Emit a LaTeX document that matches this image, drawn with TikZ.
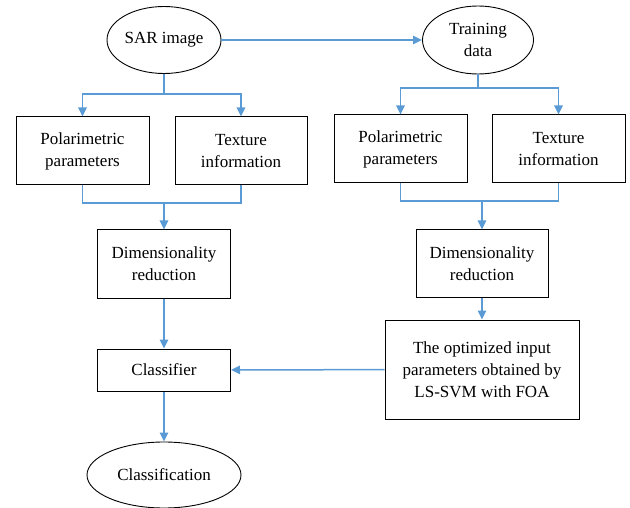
\documentclass[tikz,border=0pt]{standalone}
\usepackage{fontspec}
\setmainfont{Liberation Serif}
\usetikzlibrary{arrows.meta,shapes.geometric}
\definecolor{flowblue}{RGB}{91,155,213}

\begin{document}
\begin{tikzpicture}[x=1pt,y=-1pt,>={Triangle[length=9pt,width=8.5pt]},
  font=\fontsize{17}{22}\selectfont,
  box/.style={draw,line width=1pt,align=center,inner sep=0pt},
  oval/.style={draw,ellipse,line width=0.9pt,align=center,inner sep=0pt},
  flow/.style={draw=flowblue,line width=1.5pt}]
\useasboundingbox (0,0) rectangle (630,508);
\node[oval,minimum width=114,minimum height=67] (sar) at (164,40) {SAR image};
\node[oval,minimum width=111,minimum height=68] (train) at (478,40) {Training\\data};
\node[box,minimum width=133,minimum height=68] (polL) at (82.5,151) {Polarimetric\\parameters};
\node[box,minimum width=132,minimum height=68] (texL) at (241,151) {Texture\\information};
\node[box,minimum width=133,minimum height=68] (polR) at (400.5,149) {Polarimetric\\parameters};
\node[box,minimum width=133,minimum height=68] (texR) at (558.5,149) {Texture\\information};
\node[box,minimum width=133,minimum height=68] (dimL) at (164,264) {Dimensionality\\reduction};
\node[box,minimum width=132,minimum height=67] (dimR) at (482,263.5) {Dimensionality\\reduction};
\node[box,minimum width=133,minimum height=42] (cls) at (164,370) {Classifier};
\node[box,minimum width=194,minimum height=99] (opt) at (482,369.5) {The optimized input\\parameters obtained by\\LS-SVM with FOA};
\node[oval,minimum width=154,minimum height=66] (res) at (164,475) {Classification};
\coordinate (sL) at (164,94);
\coordinate (sR) at (478,88);
\coordinate (mL) at (164,203);
\coordinate (mR) at (482,201);
% left branch
\draw[flow] (sar) -- (sL);
\draw[flow,->] (sL) -| (polL);
\draw[flow,->] (sL) -| (texL);
\draw[flow] (polL) |- (mL) -| (texL);
\draw[flow,->] (mL) -- (dimL);
\draw[flow,->] (dimL) -- (cls);
\draw[flow,->] (cls) -- (res);
% right branch
\draw[flow,->] (sar) -- (train);
\draw[flow] (train) -- (sR);
\draw[flow,->] (sR) -| (polR);
\draw[flow,->] (sR) -| (texR);
\draw[flow] (polR) |- (mR) -| (texR);
\draw[flow,->] (mR) -- (dimR);
\draw[flow,->] (dimR) -- (opt);
\draw[flow,->] (opt) -- (cls);
\end{tikzpicture}
\end{document}
